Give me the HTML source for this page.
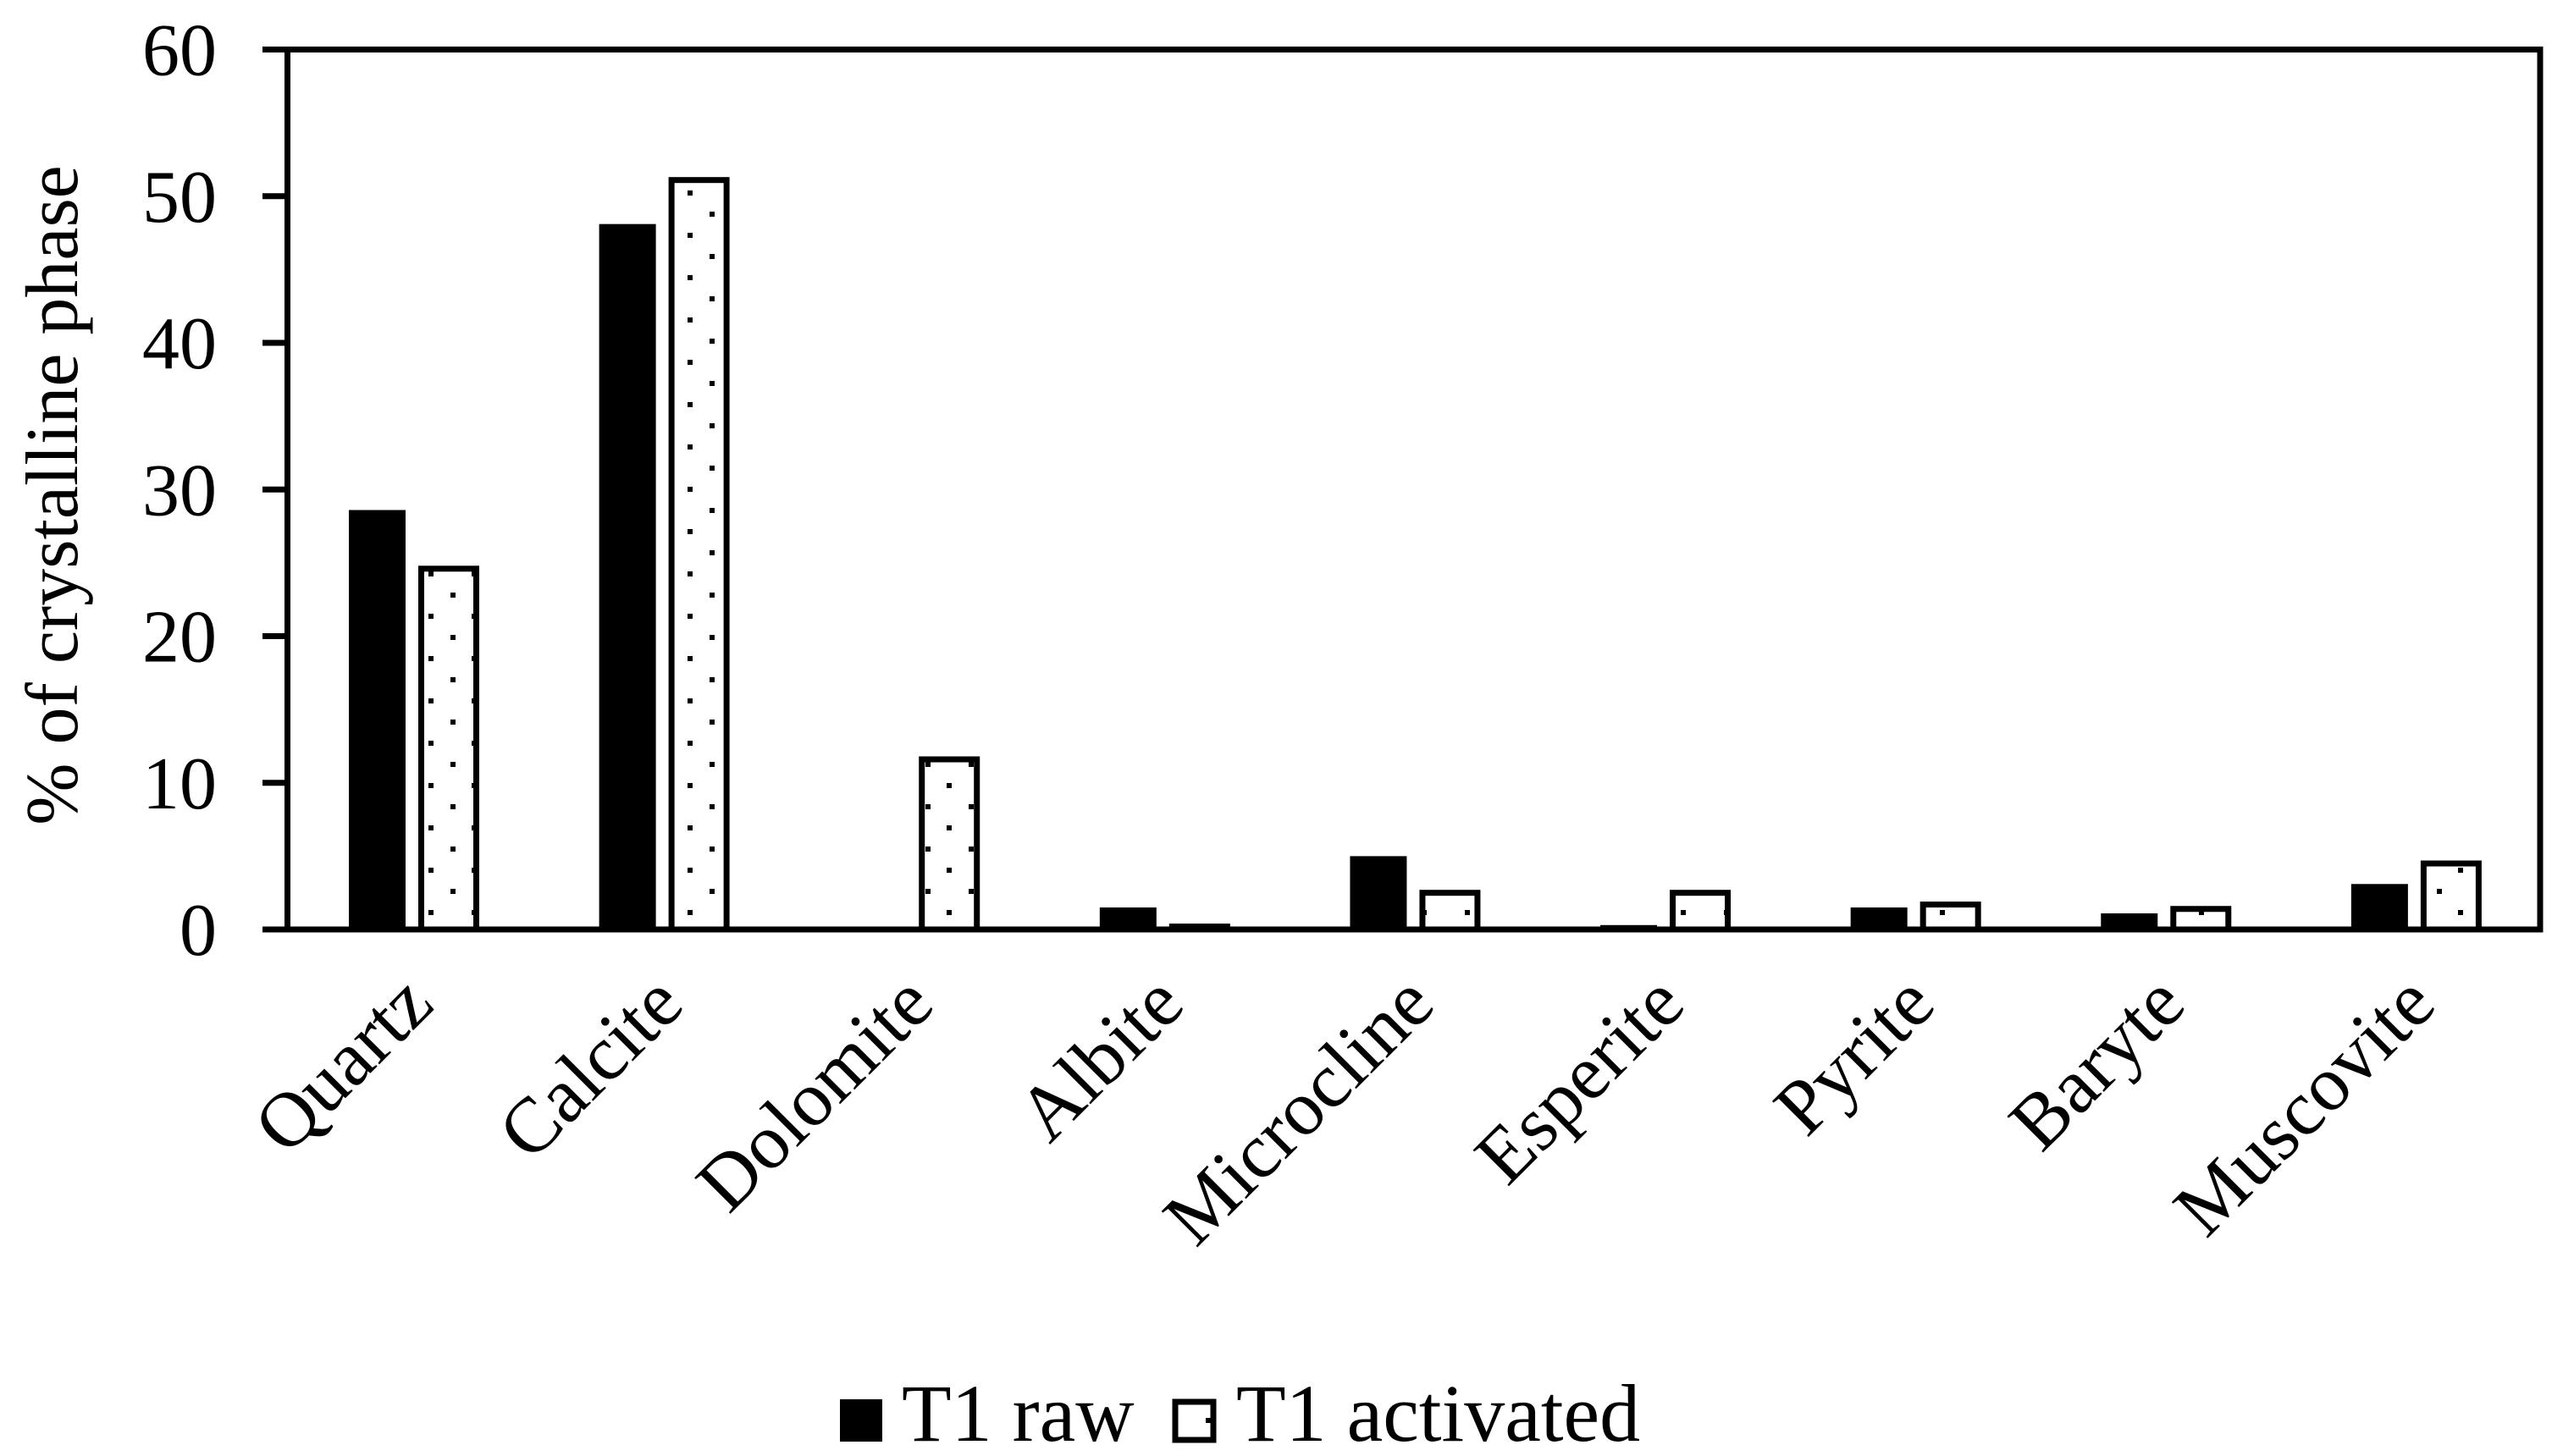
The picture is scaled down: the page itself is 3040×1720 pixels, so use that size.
<!DOCTYPE html>
<html><head><meta charset="utf-8"><style>
html,body{margin:0;padding:0;background:#fff}
svg{display:block}
text{font-family:"Liberation Serif",serif;fill:#000}
</style></head>
<body>
<svg id="chart" width="3040" height="1720" viewBox="0 0 3040 1720" xmlns="http://www.w3.org/2000/svg">
<defs>
<pattern id="dots" patternUnits="userSpaceOnUse" x="0" y="0" width="51" height="50">
<rect x="22" y="0" width="6" height="6" fill="#000"/>
<rect x="47" y="25" width="6" height="6" fill="#000"/>
<rect x="-4" y="25" width="6" height="6" fill="#000"/>
</pattern>
</defs>
<g id="plot"></g>
</svg>
<script>
const categories = ["Quartz","Calcite","Dolomite","Albite","Microcline","Esperite","Pyrite","Baryte","Muscovite"];
const rawValues = [28.6, 48.1, 0, 1.5, 5.0, 0.3, 1.5, 1.1, 3.1];
const activatedValues = [24.6, 51.1, 11.6, 0.2, 2.5, 2.5, 1.7, 1.4, 4.5];
const yTicks = [0,10,20,30,40,50,60];
const seriesNames = ["T1 raw","T1 activated"];

const NS = "http://www.w3.org/2000/svg";
const L = 339.5, R = 3000, T = 58.5, B = 1098, YMAX = 60;
const band = (R - L) / categories.length;
const y = v => B - v / YMAX * (B - T);
const xStart = i => L + i * band;
const g = document.getElementById('plot');
function mk(tag, attrs) { const e = document.createElementNS(NS, tag); for (const k in attrs) e.setAttribute(k, attrs[k]); g.appendChild(e); return e; }

categories.forEach((c, i) => {
  const r = mk('rect', {x: xStart(i) + 72.5, y: y(rawValues[i]), width: 67, height: B - y(rawValues[i]), fill: '#000'});
  
  
  const ya = y(activatedValues[i]);
  const a = mk('rect', {x: xStart(i) + 158, y: ya, width: 65, height: B - ya, fill: 'url(#dots)', stroke: '#000', 'stroke-width': 7});
  
  
});

const frame = mk('rect', {x: L, y: T, width: R - L, height: B - T, fill: 'none', stroke: '#000', 'stroke-width': 7});



yTicks.forEach(t => {
  const tk = mk('line', {x1: 310, x2: L, y1: y(t), y2: y(t), stroke: '#000', 'stroke-width': 7});
  
  
  const tl = mk('text', {x: 256, y: y(t) + 30, 'text-anchor': 'end', 'font-size': 88});
  tl.textContent = t;
  
  
});

categories.forEach((c, i) => {
  const cx = xStart(i) + band / 2 + 28, cy = 1190;
  const t = mk('text', {x: cx, y: cy, 'text-anchor': 'end', 'font-size': 92, transform: `rotate(-45 ${cx} ${cy})`});
  t.textContent = c;
  
  
});

const yt = mk('text', {x: 62, y: 585, 'text-anchor': 'middle', 'font-size': 88, transform: 'rotate(-90 62 585) translate(0 29)'});
yt.textContent = '% of crystalline phase';



const ls1 = mk('rect', {x: 992, y: 1653, width: 50, height: 50, fill: '#000'});


const lt1 = mk('text', {x: 1065, y: 1702, 'font-size': 96});
lt1.textContent = seriesNames[0];


const ls2 = mk('rect', {x: 1388, y: 1656, width: 45, height: 45, fill: 'url(#dots)', stroke: '#000', 'stroke-width': 7});


const lt2 = mk('text', {x: 1460, y: 1702, 'font-size': 96});
lt2.textContent = seriesNames[1];


</script>
</body></html>
